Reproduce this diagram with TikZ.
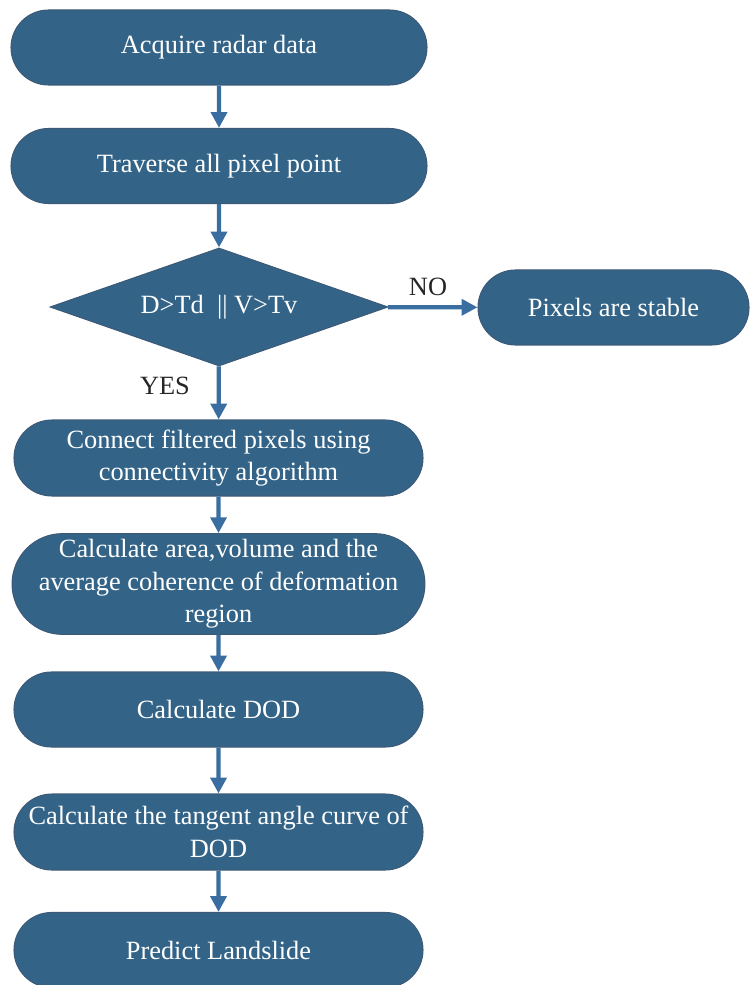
\documentclass[tikz,border=0pt]{standalone}
\usepackage{fontspec}
\setmainfont{Liberation Serif}
\usepackage{tikz}
\usetikzlibrary{arrows.meta, shapes.geometric, shapes.misc}

\definecolor{boxfill}{RGB}{51,100,136}
\definecolor{boxedge}{RGB}{60,90,120}
\definecolor{arrowblue}{RGB}{58,110,160}

\tikzset{
    stepbox/.style={rounded rectangle, fill=boxfill, draw=boxedge, line width=0.6pt,
        minimum width=8.2cm, minimum height=1.5cm, inner xsep=0pt, text=white, align=center,
        font=\fontsize{15}{18.5}\selectfont},
    testbox/.style={diamond, aspect=2.86, fill=boxfill, draw=boxedge, line width=0.6pt,
        minimum width=6.76cm, minimum height=2.36cm, inner sep=0pt, text=white,
        font=\fontsize{15}{18.5}\selectfont},
    flow/.style={-{Triangle[length=9pt, width=9pt]}, line width=2.4pt, draw=arrowblue},
    tag/.style={font=\fontsize{15}{18.5}\selectfont, text=black!85}
}

\begin{document}
\begin{tikzpicture}
        \useasboundingbox (0,0) rectangle (15,-19.7);
        % 节点
        \node[stepbox, minimum width=8.32cm] (acquire) at (4.38,-0.95) {Acquire radar data};
        \node[stepbox, minimum width=8.32cm] (traverse) at (4.38,-3.32) {Traverse all pixel point};
        \node[testbox] (test) at (4.38,-6.14) {D>Td~~|| V>Tv};
        \node[stepbox, minimum width=5.42cm] (stable) at (12.27,-6.15) {Pixels are stable};
        \node[stepbox, minimum width=8.18cm, minimum height=1.52cm] (connect) at (4.37,-9.16)
            {Connect filtered pixels using\\connectivity algorithm};
        \node[stepbox, minimum width=8.18cm, minimum height=1.88cm] (area) at (4.37,-11.68)
            {Calculate area,volume and the\\average coherence of deformation\\region};
        \node[stepbox, minimum width=8.18cm] (dod) at (4.37,-14.19) {Calculate DOD};
        \node[stepbox, minimum width=8.18cm, minimum height=1.52cm] (tangent) at (4.37,-16.64)
            {Calculate the tangent angle curve of\\DOD};
        \node[stepbox, minimum width=8.18cm] (predict) at (4.37,-19.0) {Predict Landslide};

        % 箭头
        \draw[flow] (acquire) -- (traverse);
        \draw[flow] (traverse) -- (test);
        \draw[flow] (test) -- (stable);
        \draw[flow] (test) -- (connect);
        \draw[flow] (connect) -- (area);
        \draw[flow] (area) -- (dod);
        \draw[flow] (dod) -- (tangent);
        \draw[flow] (tangent) -- (predict);

        % 标签
        \node[tag] (no) at (8.56,-5.74) {NO};
        \node[tag] (yes) at (3.3,-7.72) {YES};
\end{tikzpicture}
\end{document}
